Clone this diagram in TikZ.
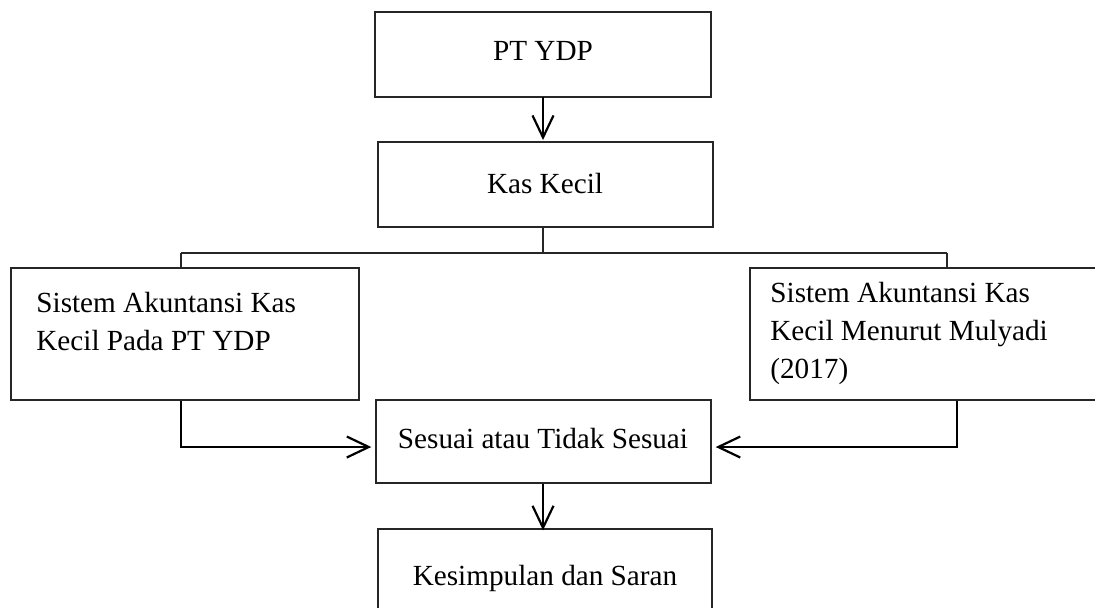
\documentclass[tikz,border=0pt]{standalone}
\usepackage{fontspec}
\setmainfont{Liberation Serif}
\usetikzlibrary{fit,arrows.meta}
\begin{document}
\begin{tikzpicture}[x=0.5pt,y=-0.5pt,
  box/.style={draw=black!85,line width=0.7pt,inner sep=0pt,rectangle},
  txt/.style={inner sep=0pt,font=\fontsize{14.6}{19}\selectfont},
  conn/.style={draw=black!85,line width=0.7pt},
  arr/.style={draw=black,line width=1.1pt,-{Straight Barb[length=11pt,width=10.5pt,line width=1.1pt]}}]
\useasboundingbox (0,0) rectangle (1095,607);
\clip (0,0) rectangle (1095,607);
\node[box,fit={(375,12)(711,97)}] (pt) {};
\node[txt,anchor=base] at (543,60) {PT YDP};
\node[box,fit={(378,142)(713,227)}] (kas) {};
\node[txt,anchor=base] at (545,193) {Kas Kecil};
\node[box,fit={(11,268)(359,400)}] (left) {};
\node[txt,anchor=base west] at (36,312) {Sistem Akuntansi Kas};
\node[txt,anchor=base west] at (36,350) {Kecil Pada PT YDP};
\node[box,fit={(750,268)(1110,400)}] (right) {};
\node[txt,anchor=base west] at (770,302) {Sistem Akuntansi Kas};
\node[txt,anchor=base west] at (770,340) {Kecil Menurut Mulyadi};
\node[txt,anchor=base west] at (770,378) {(2017)};
\node[box,fit={(376,400)(711,483)}] (ses) {};
\node[txt,anchor=base] at (543,448) {Sesuai atau Tidak Sesuai};
\node[box,fit={(378,529)(712,640)}] (kes) {};
\node[txt,anchor=base] at (545,585) {Kesimpulan dan Saran};
\coordinate (bl) at (181,253);
\coordinate (br) at (947,253);
\coordinate (la) at (181,447);
\coordinate (ra) at (957,447);
\draw[arr] (543,97) -- (543,140);
\draw[conn] (kas.south -| 543,0) -- (543,253);
\draw[conn] (bl) -- (br);
\draw[conn] (bl) -- (bl |- left.north);
\draw[conn] (br) -- (br |- right.north);
\draw[arr] (la |- left.south) -- (la) -- ([xshift=-2pt]la -| ses.west);
\draw[arr] (ra |- right.south) -- (ra) -- ([xshift=2pt]ra -| ses.east);
\draw[arr] (ses.south -| 543,0) -- ([yshift=-1pt]kes.north -| 543,0);
\end{tikzpicture}
\end{document}
